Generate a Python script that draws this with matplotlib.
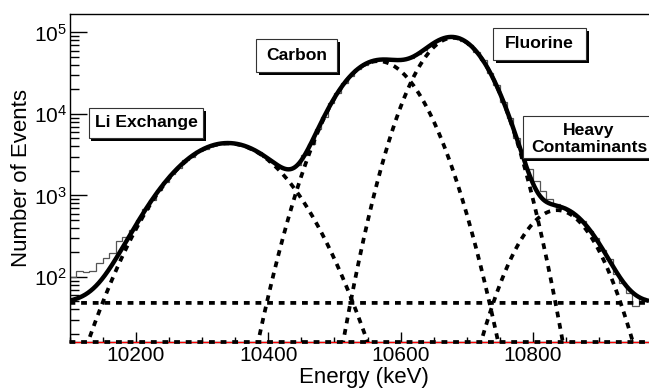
import numpy as np
import matplotlib
matplotlib.use("Agg")
import matplotlib.pyplot as plt
from matplotlib.patches import Rectangle
from matplotlib.ticker import FixedLocator, FixedFormatter, MultipleLocator, NullFormatter

plt.rcParams['font.family'] = ['Liberation Sans', 'DejaVu Sans']
plt.rcParams['mathtext.fontset'] = 'custom'
plt.rcParams['mathtext.rm'] = 'Liberation Sans'

# ---------------- data ----------------
bin_edges_start = 10100
bin_width = 10
counts = [100, 118, 115, 118, 147, 170, 196, 279, 310, 380,
          500, 690, 880, 1180, 1450, 1850, 2200, 2700, 3000, 3500,
          3750, 4150, 4250, 4450, 4350, 4300, 4000, 3700, 3450, 2950,
          2600, 2250, 2100, 2150, 2350, 3150, 4300, 6600, 9300, 13600,
          18000, 24200, 29500, 35800, 40000, 44500, 45500, 47000, 46000, 45500,
          46800, 48500, 54500, 60500, 70500, 78000, 86000, 88000, 87500, 79500,
          71000, 57000, 45500, 32000, 22800, 14000, 9000, 5000, 2900, 2100,
          1500, 1150, 900, 780, 720, 640, 560, 490, 370, 300,
          215, 165, 110, 85, 64, 44, 55, 50]

# fitted gaussian components: (amplitude, mean keV, sigma keV)
comp_names = ["Li Exchange", "Carbon", "Fluorine", "Heavy Contaminants"]
comp_amp = [4350, 44500, 86000, 660]
comp_mean = [10339, 10566, 10679, 10836]
comp_sigma = [63, 45.5, 40, 42]
background_level = 48
zero_level = 15.9

x_min, x_max = 10100, 10975
y_min, y_max = 15.9, 1.71e5
x_major = [10200, 10400, 10600, 10800]
x_major_labels = ["10200", "10400", "10600", "10800"]
y_major = [1e2, 1e3, 1e4, 1e5]
y_major_labels = [r"$\mathregular{10^{2}}$", r"$\mathregular{10^{3}}$",
                  r"$\mathregular{10^{4}}$", r"$\mathregular{10^{5}}$"]

# ---------------- figure ----------------
W, H = 649, 391
fig = plt.figure(figsize=(W / 100, H / 100), dpi=100)
left, right, top, bottom = 69.5, 649, 13.5, 342
ax = fig.add_axes([left / W, 1 - bottom / H, (right - left) / W, (bottom - top) / H])
ax.set_yscale('log')
ax.set_xlim(x_min, x_max)
ax.set_ylim(y_min, y_max)

edges = bin_edges_start + bin_width * np.arange(len(counts) + 1)
ax.stairs(counts, edges, color='#555555', lw=0.9, zorder=2)

xs = np.linspace(x_min, x_max, 3000)
comps = [a * np.exp(-0.5 * ((xs - m) / s) ** 2)
         for a, m, s in zip(comp_amp, comp_mean, comp_sigma)]
total = np.sum(comps, axis=0) + background_level

dot = (0, (1.55, 1.55))
dlw = 2.7
ax.axhline(zero_level, color='red', lw=0.9, zorder=3, clip_on=False)
for c in comps:
    ax.plot(xs, c, color='black', lw=dlw, linestyle=dot, dash_capstyle='butt', zorder=4)
ax.plot(xs, np.full_like(xs, background_level), color='black', lw=dlw,
        linestyle=dot, dash_capstyle='butt', zorder=4)
ax.plot(xs, np.full_like(xs, zero_level), color='black', lw=dlw,
        linestyle=dot, dash_capstyle='butt', zorder=4, clip_on=False)
ax.plot(xs, total, color='black', lw=3.2, zorder=5, solid_capstyle='butt')

# spines / ticks
ax.spines['right'].set_visible(False)
for s in ['left', 'top', 'bottom']:
    ax.spines[s].set_linewidth(1.0)
ax.xaxis.set_major_locator(FixedLocator(x_major))
ax.xaxis.set_major_formatter(FixedFormatter(x_major_labels))
ax.xaxis.set_minor_locator(MultipleLocator(50))
ax.yaxis.set_major_locator(FixedLocator(y_major))
ax.yaxis.set_major_formatter(FixedFormatter(y_major_labels))
ax.yaxis.set_minor_locator(matplotlib.ticker.LogLocator(base=10, subs=np.arange(2, 10)))
ax.yaxis.set_minor_formatter(NullFormatter())
ax.tick_params(axis='x', which='major', direction='in', length=7, width=1, labelsize=15, pad=3, top=False)
ax.tick_params(axis='x', which='minor', direction='in', length=3.6, width=1, top=False)
ax.tick_params(axis='y', which='major', direction='in', length=12, width=1, labelsize=15, pad=2, right=False)
ax.tick_params(axis='y', which='minor', direction='in', length=6.5, width=1, right=False)

fig.text(364 / W, 1 - 377 / H, "Energy (keV)", fontsize=16, ha='center', va='center')
fig.text(22 / W, 1 - 178 / H, "Number of Events", fontsize=16, ha='center', va='center',
         rotation=90)

# labelled boxes (pixel coords: x0, x1, y0(top), y1(bottom))
def label_box(x0, x1, y0, y1, text, tx, ty):
    sh = 2.5
    fig.patches.append(Rectangle(((x0 + sh) / W, 1 - (y1 + sh) / H), (x1 - x0) / W, (y1 - y0) / H,
                                 transform=fig.transFigure, facecolor='black',
                                 edgecolor='none', zorder=10))
    fig.patches.append(Rectangle((x0 / W, 1 - y1 / H), (x1 - x0) / W, (y1 - y0) / H,
                                 transform=fig.transFigure, facecolor='white',
                                 edgecolor='#333333', lw=0.8, zorder=11))
    fig.text(tx / W, 1 - ty / H, text, fontsize=12.6, fontweight='bold', ha='center',
             va='center', zorder=12, linespacing=1.25)

label_box(89, 203, 108, 138, comp_names[0], 146, 123)
label_box(256, 337, 39, 72, comp_names[1], 296.5, 56)
label_box(493, 586, 28, 60, comp_names[2], 539.5, 44)
label_box(523, 665, 116, 158, "Heavy\nContaminants", 589, 139)

fig.savefig("out.png", dpi=100)
